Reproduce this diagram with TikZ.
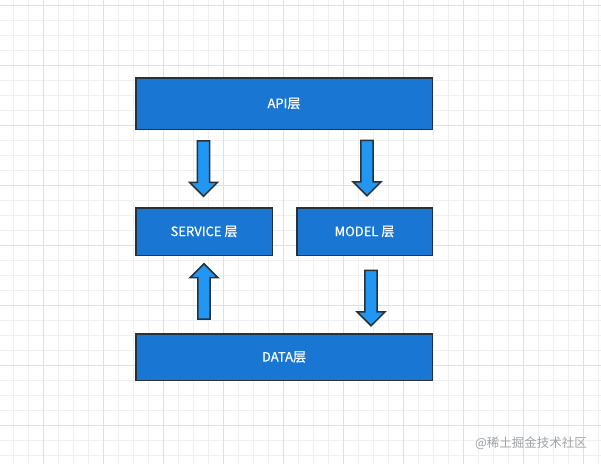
\documentclass[tikz,border=0pt]{standalone}
\usepackage{fontspec}
\setmainfont{Noto Sans CJK SC}
\newfontfamily\layerfont{Noto Sans CJK SC}[FakeBold=0.6]
\usepackage{tikz}
\usetikzlibrary{shapes.arrows}
\usetikzlibrary{positioning}

\definecolor{layerblue}{HTML}{1976D2}
\definecolor{arrowblue}{HTML}{2196F3}
\definecolor{edgegray}{HTML}{263238}
\definecolor{gridminor}{HTML}{F0F0F0}
\definecolor{gridmajor}{HTML}{E0E0E0}
\definecolor{markgray}{HTML}{A0A4A8}

\begin{document}
\begin{tikzpicture}[
		x=1pt,
		y=-1pt
		]
		\tikzstyle{layer}=[
			rectangle,
			draw=edgegray,
			fill=layerblue,
			line width=1.5 pt,
			text=white,
			font=\layerfont\fontsize{13}{15}\selectfont,
			inner sep=0 pt
		]
		\tikzstyle{flow arrow}=[
			single arrow,
			draw=edgegray,
			fill=arrowblue,
			line width=1.5 pt,
			minimum height=55.5 pt,
			minimum width=28 pt,
			inner sep=4.75 pt
		]
		\useasboundingbox (0,0) rectangle (601,464);
		\fill[white] (0,0) rectangle (601,464);
		% Draw the background grid.
			\foreach \x in {13, 28, ..., 598}
				\draw[gridminor, line width=0.8 pt] (\x,0) -- (\x,464);
			\foreach \y in {5, 20, ..., 455}
				\draw[gridminor, line width=0.8 pt] (0,\y) -- (601,\y);
			\foreach \x in {43, 103, ..., 583}
				\draw[gridmajor, line width=0.8 pt] (\x,0) -- (\x,464);
			\foreach \y in {5, 65, ..., 425}
				\draw[gridmajor, line width=0.8 pt] (0,\y) -- (601,\y);
		% Draw the layers.
			\node[layer, minimum width=296.5 pt, minimum height=51.5 pt] (API) at (284,103.5) {API层};
			\node[layer, minimum width=136.5 pt, minimum height=47.5 pt] (SERVICE) at (204,231.5) {SERVICE 层};
			\node[layer, minimum width=135.5 pt, minimum height=47.5 pt] (MODEL) at (364.5,231.5) {MODEL 层};
			\node[layer, minimum width=296.5 pt, minimum height=46.5 pt] (DATA) at (284,357) {DATA层};
		% Draw the arrows between the layers.
			\node[flow arrow, rotate=-90] (A-1) at (203.5,165.5) {};
			\node[flow arrow, rotate=-90] (A-2) at (367,165) {};
			\node[flow arrow, rotate=90] (A-3) at (204,294.5) {};
			\node[flow arrow, rotate=-90] (A-4) at (371,295) {};
		% Watermark.
			\node[text=markgray, font=\fontsize{12.5}{14}\selectfont, inner sep=0 pt] (mark) at (531,443) {@稀土掘金技术社区};
	\end{tikzpicture}
\end{document}
